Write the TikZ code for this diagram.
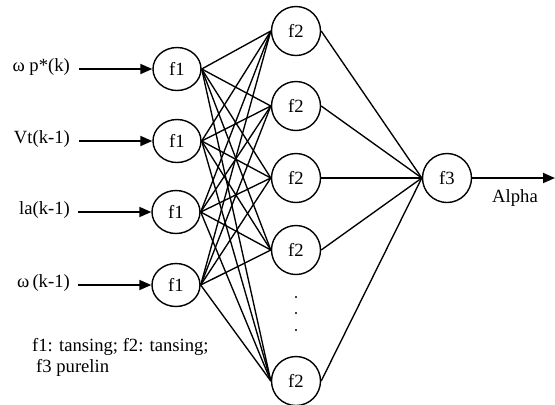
\documentclass[tikz,border=0pt]{standalone}
\usepackage{fontspec}
\setmainfont{Liberation Serif}
\usetikzlibrary{arrows.meta,shapes.geometric}
\begin{document}
\begin{tikzpicture}[x=1bp,y=-1bp,
  every node/.style={font=\fontsize{18.7}{21}\selectfont},
  fone/.style={draw,ellipse,line width=1.4bp,minimum width=48bp,minimum height=43bp,inner sep=0pt},
  ftwo/.style={draw,circle,line width=1.4bp,minimum size=49bp,inner sep=0pt},
  conn/.style={line width=1.35bp},
  arr/.style={line width=1.8bp,-{Triangle[length=12bp,width=10bp]}},
  lbl/.style={anchor=east,inner sep=0pt,text height=0.72em,text depth=0.22em}]
\useasboundingbox (0,0) rectangle (555,404);
% layer 1
\node[fone] (a1) at (177,69) {f1};
\node[fone] (a2) at (177,141) {f1};
\node[fone] (a3) at (176,212) {f1};
\node[fone] (a4) at (176,285) {f1};
% layer 2
\node[ftwo] (b1) at (296,31) {f2};
\node[ftwo] (b2) at (296,106) {f2};
\node[ftwo] (b3) at (296,178) {f2};
\node[ftwo] (b4) at (296,250) {f2};
\node[ftwo] (b5) at (296,381) {f2};
% layer 3
\node[ftwo] (c1) at (447,178) {f3};
% dots
\fill (296,297) circle (1.1bp) (296,313) circle (1.1bp) (296,330) circle (1.1bp);
% inputs
\node[lbl] (i1) at (70,69) {ω p*(k)};
\node[lbl] (i2) at (70,141) {Vt(k-1)};
\node[lbl] (i3) at (70,212) {la(k-1)};
\node[lbl] (i4) at (70,285) {ω\,(k-1)};
\draw[arr,shorten <=9bp] (i1.east) -- (a1.west);
\draw[arr,shorten <=9bp] (i2.east) -- (a2.west);
\draw[arr,shorten <=8bp] (i3.east) -- (a3.west);
\draw[arr,shorten <=8bp] (i4.east) -- (a4.west);
% full connections
\foreach \i in {1,2,3,4}{
  \foreach \j in {1,2,3,4,5}{
    \draw[conn] (a\i.east) -- (b\j.west);
  }
}
\foreach \j in {1,2,3,4,5}{
  \draw[conn] (b\j.east) -- (c1.west);
}
% output
\coordinate (out) at (555,178);
\draw[arr] (c1.east) -- (out);
\node (alpha) at (515,198) {Alpha};
% note
\node[anchor=base west,inner sep=0pt] (n1) at (32,351) {f1: tansing; f2: tansing;};
\node[anchor=base west,inner sep=0pt] (n2) at (36,372) {f3 purelin};
\end{tikzpicture}
\end{document}
